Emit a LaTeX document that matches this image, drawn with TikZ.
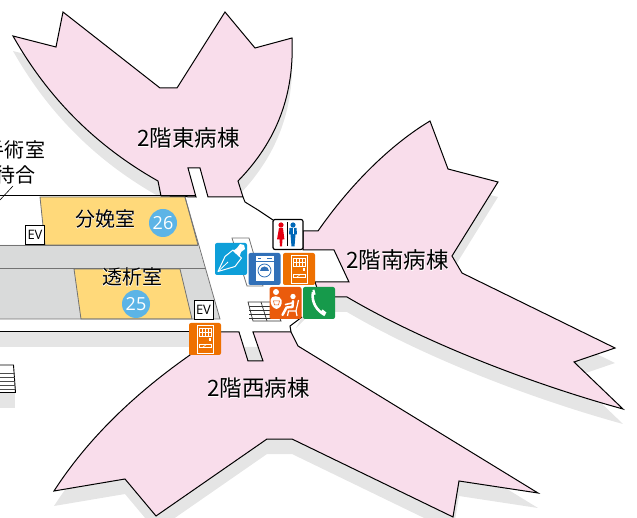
\documentclass[tikz,border=0pt]{standalone}
\usepackage{fontspec}
\setmainfont{Noto Sans CJK JP}
\newfontfamily\halofont[FakeBold=3,Color=FFFFFF]{Noto Sans CJK JP}
\newfontfamily\latinfont{Open Sans}
\newcommand{\halo}[1]{\rlap{\halofont #1}#1}
\definecolor{wingpink}{HTML}{F9DDEB}
\definecolor{shadowgray}{HTML}{E5E5E5}
\definecolor{corridorgray}{HTML}{D9DADA}
\definecolor{roomyellow}{HTML}{FFD97A}
\definecolor{badgeblue}{HTML}{5CB4E6}
\definecolor{vendorange}{HTML}{EE7000}
\definecolor{loungeorange}{HTML}{EA5B0C}
\definecolor{penblue}{HTML}{0E9FD9}
\definecolor{washblue}{HTML}{3170B8}
\definecolor{phonegreen}{HTML}{169A4B}
\definecolor{ladyred}{HTML}{E60012}
\definecolor{manblue}{HTML}{0068B7}
\usetikzlibrary{positioning}

\begin{document}
\begin{tikzpicture}[x=1pt, y=-1pt,
    wing/.style={draw=black, fill=wingpink, line width=1pt, line join=miter},
    shade/.style={fill=shadowgray, shift={(0,15)}},
    wall/.style={draw=black, line width=1pt},
    room/.style={draw=black!55, line width=0.8pt},
    label/.style={font=\fontsize{22.5}{26}\selectfont, inner sep=0pt, align=center},
    roomlabel/.style={font=\fontsize{20}{25}\selectfont, inner sep=0pt, align=center},
    badge/.style={circle, fill=badgeblue, text=white, minimum size=28pt, inner sep=0pt, font=\latinfont\fontsize{18}{18}\selectfont},
    evbox/.style={rectangle, draw=black, fill=white, line width=0.9pt, minimum size=19pt, inner sep=0pt, font=\latinfont\fontsize{13}{13}\selectfont},
    iconbox/.style={rectangle, rounded corners=2pt, minimum size=32pt, inner sep=0pt},
    glyph/.style={draw=white, line width=0.7pt},
    solidglyph/.style={fill=white}
  ]
  \useasboundingbox (0,0) rectangle (637,518);

  % shadows
  \fill [shade] (161,196) -- (158,181) .. controls (96,146) and (48,98) .. (13,36) -- (56,47) -- (63,12) -- (160,88) -- (177,88) -- (225,12) -- (255,48) -- (292,38) .. controls (294,85) and (283,135) .. (238,181) -- (243,197) -- cycle;
  \fill [shade] (303,231) -- (318,231) .. controls (350,185) and (390,145) .. (430,121) -- (448,169) -- (498,182) -- (452,256) -- (462,273) -- (615,348) -- (574,362) -- (623,409) .. controls (525,382) and (420,340) .. (347,297) -- (320,297) -- cycle;
  \fill [shade] (190,332) -- (291,332) -- (298,346) -- (538,493) -- (459,481) -- (453,517) -- (292,439) -- (267,439) -- (156,516) -- (125,479) -- (54,491) .. controls (90,435) and (140,390) .. (190,355) -- cycle;
  \fill [shadowgray] (0,332) rectangle (190,347);
  \fill [shadowgray] (0,392) rectangle (15,408);

  % floor
  \fill [white] (0,196) -- (188,196) -- (188,168) -- (200,168) -- (208,196) -- (243,197) -- (245,202) -- (258,210) -- (273,220) -- (303,231) -- (303,250) -- (334,250) -- (349,282) -- (315,282) -- (320,297) -- (335,297) -- (302,317) -- (290,326) -- (291,332) -- (0,332) -- cycle;
  \fill [shadowgray] (302,317) -- (335,297) -- (347,297) -- (347,312) -- (312,312) -- (296,328) -- cycle;

  % wings
  \path [wing] (161,196) -- (158,181) .. controls (96,146) and (48,98) .. (13,36) -- (56,47) -- (63,12) -- (160,88) -- (177,88) -- (225,12) -- (255,48) -- (292,38) .. controls (294,85) and (283,135) .. (238,181) -- (243,197) -- (208,197) -- (200,168) -- (188,168) -- (196,197) -- cycle;
  \path [wing] (303,231) -- (318,231) .. controls (350,185) and (390,145) .. (430,121) -- (448,169) -- (498,182) -- (452,256) -- (462,273) -- (615,348) -- (574,362) -- (623,409) .. controls (525,382) and (420,340) .. (347,297) -- (320,297) -- (315,282) -- (349,282) -- (334,250) -- (303,250) -- cycle;
  \path [wing] (190,332) -- (239,332) -- (248,361) -- (263,361) -- (253,332) -- (291,332) -- (298,346) -- (538,493) -- (459,481) -- (453,517) -- (292,439) -- (267,439) -- (156,516) -- (125,479) -- (54,491) .. controls (90,435) and (140,390) .. (190,355) -- cycle;

  % corridors and rooms
  \fill [corridorgray] (0,245) -- (198,245) -- (220,319) -- (0,319) -- cycle;
  \path [room, fill=roomyellow] (40,197) -- (185,197) -- (198,245) -- (45,245) -- cycle;
  \path [room, fill=roomyellow] (74,269) -- (180,269) -- (192,319) -- (81,319) -- cycle;
  \path [room] (0,245) -- (198,245);
  \path [room] (0,268.5) -- (206,268.5);
  \path [room] (185,197) -- (220,319) -- (0,319);
  \path [room] (232,238) -- (249,238) -- (263,286) -- (247,286) -- cycle;
  \path [wall] (0,196) -- (196,196);
  \path [wall] (0,332) -- (190,332);
  \path [wall] (243,197) -- (245,202) -- (258,210) -- (273,220);
  \path [wall] (291,332) -- (290,326) -- (302,317);

  % stairs
  \path [draw=black, fill=white, line width=0.9pt] (0,365) -- (13.5,365) -- (15.5,392.5) -- (0,392.5);
  \foreach \y in {373,377,381,385,389} {
    \path [draw=black!70, line width=0.9pt] (0,\y) -- (14.5,\y);
  }
  \path [draw=black!80, line width=0.7pt] (248,302) -- (272,302) -- (281,321) -- (253,321) -- cycle;
  \foreach \y in {306,310,314,318} {
    \path [draw=black!80, line width=0.7pt] (249,\y) -- (279,\y);
  }
  \path [draw=black!80, line width=0.7pt] (261,302) -- (267,321);

  % leader of the clipped label
  \coordinate (leaderstart) at (13,186);
  \coordinate (leaderend) at (0,200);
  \path [draw=black, line width=0.6pt] (leaderstart) -- (leaderend);

  % labels
  \node [label] (east) at (188.5,138) {\halo{2階東病棟}};
  \node [label] (south) at (397.5,260) {\halo{2階南病棟}};
  \node [label] (west) at (258.5,388) {\halo{2階西病棟}};
  \node [roomlabel] (delivery) at (105,219) {\halo{分娩室}};
  \node [roomlabel] (dialysis) at (132,277) {\halo{透析室}};
  \node [roomlabel] (surgery) at (15,162) {\halo{手術室}\\\halo{待合}};
  \node [badge] (badgea) at (163,223) {26};
  \node [badge] (badgeb) at (136,304) {25};
  \node [evbox] (eva) at (35,235) {EV};
  \node [evbox] (evb) at (203.5,309.5) {EV};

  % icons
  \node [iconbox, fill=penblue] (pen) at (231,259) {};
  \node [iconbox, fill=washblue] (wash) at (264.5,269) {};
  \node [iconbox, fill=vendorange] (venda) at (299,269) {};
  \node [iconbox, fill=vendorange] (vendb) at (205,339) {};
  \node [iconbox, fill=loungeorange] (lounge) at (285.5,303) {};
  \node [iconbox, fill=phonegreen] (phone) at (319,303) {};
  \node [iconbox, draw=black, fill=white, line width=1.2pt, minimum size=30pt] (toilet) at (288,234.5) {};

  % pen glyph
  \begin{scope}[shift={(pen.center)}]
    \path [glyph, line width=1pt, line join=round] (-13,12.5) -- (-6,-2.5) -- (2,-9) -- (10.5,-1) -- (4,7.5) -- cycle;
    \path [glyph, line width=0.8pt] (-13,12.5) -- (-3,3);
    \path [solidglyph] (2,-8) -- (6,-11) -- (9,-15) -- (13,-14) -- (14,-10) -- (10,-7) -- (8.5,-2) -- cycle;
  \end{scope}

  % washer glyph
  \begin{scope}[shift={(wash.center)}]
    \path [solidglyph] (-9,-12.5) rectangle (9,12.5);
    \path [draw=washblue, line width=0.6pt] (-9,-8) -- (9,-8);
    \path [draw=washblue, line width=0.8pt] (0,1.5) circle (6.5);
    \path [fill=washblue] (-4.5,2) arc (180:360:4.5) -- cycle;
    \path [fill=washblue] (-7,-11) rectangle (-4,-9.5);
    \path [fill=washblue] (2,-11) rectangle (7,-9.5);
  \end{scope}

  % vending glyphs
  \foreach \vend in {venda,vendb} {
    \begin{scope}[shift={(\vend.center)}]
      \path [glyph] (-8,-14) rectangle (8,14);
      \path [glyph, line width=0.5pt] (-6,-11) rectangle (6,-3);
      \foreach \x in {-3,0,3} {
        \path [glyph, line width=0.5pt] (\x,-11) -- (\x,-3);
      }
      \path [glyph, line width=0.5pt] (-6,-7) -- (6,-7);
      \path [solidglyph] (3.5,-0.5) rectangle (6,2);
      \path [glyph, line width=0.5pt] (-6,5) rectangle (6,8);
      \path [glyph, line width=0.5pt] (-2,8) -- (2,5);
    \end{scope}
  }

  % lounge glyph
  \begin{scope}[shift={(lounge.center)}]
    \path [solidglyph] (-9.5,-11) circle (3);
    \path [solidglyph] (-15,-3) .. controls (-15,-8) and (-5,-8) .. (-4,-3) .. controls (-3,3) and (-6,5) .. (-9,6) .. controls (-13,5) and (-15,2) .. (-15,-3) -- cycle;
    \path [draw=loungeorange, line width=0.5pt] (-12,-2) -- (-6,-2) -- (-7,2) -- (-11,2) -- cycle;
    \path [solidglyph] (7.5,-6.5) circle (2.7);
    \path [draw=white, line width=2.4pt, line cap=round, line join=round] (7.5,-2) -- (7,4) -- (1,4.5) -- (-3,12);
    \path [draw=white, line width=1.6pt, line cap=round] (6.5,0) -- (0,1.5);
    \path [draw=white, line width=1.2pt] (13,-3) -- (10.5,8) -- (3,8) -- (2,13);
    \path [draw=white, line width=1.2pt] (10.5,8) -- (11.5,13);
  \end{scope}

  % phone glyph
  \begin{scope}[shift={(phone.center)}]
    \path [draw=white, line width=2.6pt] (-6,-11) .. controls (-8,-1) and (-2,8) .. (6,12);
    \path [draw=white, line width=5pt] (-6,-10.5) -- (-4,-11);
    \path [draw=white, line width=5pt] (3.5,10.5) -- (5.5,8);
  \end{scope}

  % toilet glyph
  \begin{scope}[shift={(toilet.center)}]
    \path [draw=black, line width=0.8pt] (-0.5,-12) -- (-0.5,12);
    \path [fill=ladyred] (-7,-9.5) circle (2.6);
    \path [fill=ladyred] (-9,-6.5) -- (-5,-6.5) -- (-3.6,5) -- (-5.5,5) -- (-6,12) -- (-8,12) -- (-8.5,5) -- (-11,5) -- cycle;
    \path [fill=manblue] (5,-9.5) circle (2.6);
    \path [fill=manblue] (1.5,-6.5) -- (8.5,-6.5) -- (9,0) -- (7.5,0) -- (6.5,12) -- (3.5,12) -- (2.5,0) -- (1,0) -- cycle;
    \path [draw=white, line width=0.7pt] (5,-6.5) -- (5,0);
  \end{scope}
\end{tikzpicture}
\end{document}
